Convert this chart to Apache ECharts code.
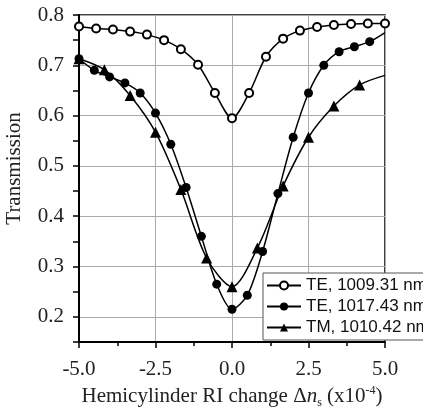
<!DOCTYPE html>
<html>
<head>
<meta charset="utf-8">
<script src="https://cdn.jsdelivr.net/npm/echarts@6/dist/echarts.min.js"></script>
<style>
  html, body { margin: 0; padding: 0; background: #fff; }
  #chart { width: 423px; height: 408px; }
</style>
</head>
<body>
<div id="chart"></div>
<script>
// ---- data ----
var SERIES_NAMES = ['TE, 1009.31 nm', 'TE, 1017.43 nm', 'TM, 1010.42 nm'];

// open circles, 19 points from -5 to 5
var TE1_X = [-5, -4.44, -3.89, -3.33, -2.78, -2.22, -1.67, -1.11, -0.56, 0,
             0.56, 1.11, 1.67, 2.22, 2.78, 3.33, 3.89, 4.44, 5];
var TE1_Y = [0.777, 0.773, 0.771, 0.767, 0.761, 0.750, 0.732, 0.701, 0.645, 0.595,
             0.645, 0.717, 0.753, 0.769, 0.776, 0.780, 0.782, 0.783, 0.783];

// filled circles, step 0.5 (last point is the line end, no marker)
var TE2_X = [-5, -4.5, -4, -3.5, -3, -2.5, -2, -1.5, -1, -0.5, 0,
             0.5, 1, 1.5, 2, 2.5, 3, 3.5, 4, 4.5, 5];
var TE2_Y = [0.713, 0.690, 0.677, 0.665, 0.645, 0.605, 0.543, 0.457, 0.360, 0.265, 0.215,
             0.243, 0.330, 0.445, 0.557, 0.645, 0.700, 0.727, 0.737, 0.747, 0.765];

// triangles, 13 points (last point is the line end, no marker)
var TM_X = [-5, -4.17, -3.33, -2.5, -1.67, -0.83, 0, 0.83, 1.67, 2.5, 3.33, 4.17, 5];
var TM_Y = [0.713, 0.691, 0.640, 0.567, 0.453, 0.317, 0.260, 0.337, 0.460, 0.557, 0.619, 0.661, 0.680];

var Y_GRID = [0.2, 0.3, 0.4, 0.5, 0.6, 0.7, 0.8];

function pairs(xs, ys, lastBare) {
  return xs.map(function(x, i) {
    var item = { value: [x, ys[i]] };
    if (lastBare && i === xs.length - 1) item.symbol = 'none';
    return item;
  });
}

var chart = echarts.init(document.getElementById('chart'), null, { renderer: 'canvas' });

var serif = '"Liberation Serif", "DejaVu Serif", serif';
var sans = '"Liberation Sans", Arial, sans-serif';

var lineBase = {
  type: 'line',
  smooth: 0.3,
  showAllSymbol: true,
  lineStyle: { color: '#000', width: 1.5 },
  emphasis: { disabled: true },
  animation: false
};

chart.setOption({
  backgroundColor: '#fff',
  animation: false,
  grid: {
    left: 79, right: 38, top: 15, bottom: 66,
    outerBoundsMode: 'none', containLabel: false,
    show: true, borderColor: '#000', borderWidth: 1.5, backgroundColor: 'transparent'
  },
  legend: {
    left: 263, top: 273, orient: 'vertical',
    padding: [4, 10, 4, 3],
    itemGap: 4, itemWidth: 34, itemHeight: 10,
    backgroundColor: '#fff', borderColor: '#555', borderWidth: 1,
    textStyle: { fontFamily: sans, fontSize: 17, color: '#111', lineHeight: 16 },
    data: SERIES_NAMES
  },
  xAxis: {
    type: 'value', min: -5, max: 5, interval: 2.5,
    axisLine: { onZero: false, lineStyle: { color: '#000', width: 2 } },
    axisTick: { length: 6, lineStyle: { color: '#000', width: 1.5 } },
    minorTick: { show: true, splitNumber: 2, length: 4, lineStyle: { color: '#000', width: 1.5 } },
    splitLine: { show: true, lineStyle: { color: '#aaa', width: 1 } },
    axisLabel: {
      margin: 17, fontFamily: serif, fontSize: 21, color: '#222',
      formatter: function(v) { return v.toFixed(1); }
    },
    name: '{a|Hemicylinder RI change Δ}{i|n}{sub|s}{a| (x10}{sup|-4}{a|)}',
    nameLocation: 'middle', nameGap: 34,
    nameTextStyle: {
      fontFamily: serif, fontSize: 21, color: '#222',
      rich: {
        a: { fontFamily: serif, fontSize: 21, color: '#222' },
        i: { fontFamily: serif, fontSize: 21, color: '#222', fontStyle: 'italic' },
        sub: { fontFamily: serif, fontSize: 12, color: '#222', padding: [13, 0, 0, 0] },
        sup: { fontFamily: serif, fontSize: 12, color: '#222', padding: [0, 0, 11, 0] }
      }
    }
  },
  yAxis: [{
    type: 'value', min: 0.15, max: 0.8, interval: 0.05,
    axisLine: { show: true, onZero: false, lineStyle: { color: '#000', width: 2 } },
    axisTick: { length: 6, lineStyle: { color: '#000', width: 1.5 } },
    splitLine: { show: false },
    axisLabel: {
      margin: 15, fontFamily: serif, fontSize: 21, color: '#222',
      formatter: function(v) {
        var k = Math.round(v * 100);
        return k % 10 === 0 ? (k / 100).toFixed(1) : '';
      }
    },
    name: 'Transmission', nameLocation: 'middle', nameGap: 54,
    nameTextStyle: { fontFamily: serif, fontSize: 21, color: '#222', padding: [0, 0, 0, 20] }
  }, {
    type: 'value', min: 0.15, max: 0.8, position: 'left',
    axisLine: { show: false, onZero: false },
    axisTick: { show: false, customValues: Y_GRID },
    axisLabel: { show: false, customValues: Y_GRID },
    splitLine: { show: true, lineStyle: { color: '#aaa', width: 1 } }
  }],
  series: [
    Object.assign({}, lineBase, {
      name: SERIES_NAMES[0], symbol: 'emptyCircle', symbolSize: 8,
      itemStyle: { color: '#000', borderColor: '#000', borderWidth: 1 },
      data: pairs(TE1_X, TE1_Y, false), z: 3
    }),
    Object.assign({}, lineBase, {
      name: SERIES_NAMES[1], symbol: 'circle', symbolSize: 9,
      itemStyle: { color: '#000' },
      data: pairs(TE2_X, TE2_Y, true), z: 4
    }),
    Object.assign({}, lineBase, {
      name: SERIES_NAMES[2], symbol: 'triangle', symbolSize: 11,
      itemStyle: { color: '#000' },
      data: pairs(TM_X, TM_Y, true), z: 5
    })
  ]
});
</script>
</body>
</html>
